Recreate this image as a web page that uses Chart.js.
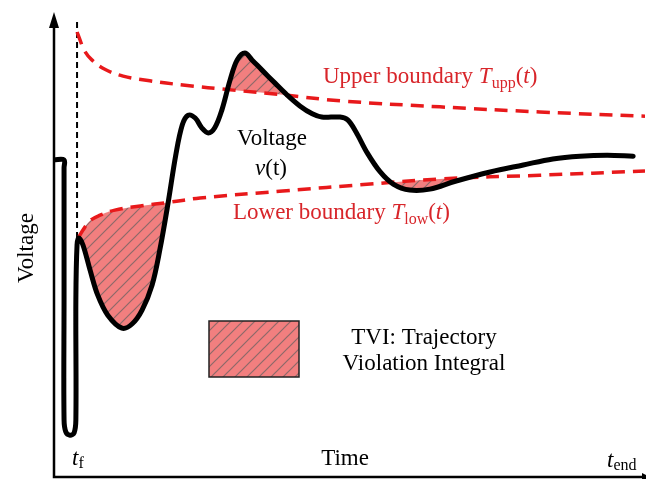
<!DOCTYPE html>
<html>
<head>
<meta charset="utf-8">
<script src="https://cdn.jsdelivr.net/npm/chart.js@4.4.1/dist/chart.umd.min.js"></script>
<style>
  html, body { margin: 0; padding: 0; background: #fff; }
  #wrap { width: 646px; height: 479px; }
</style>
</head>
<body>
<div id="wrap"><canvas id="tviChart" width="646" height="479"></canvas></div>
<script>
// time and voltage in arbitrary units (0..100)
const voltageTime  = [0, 1.7, 1.7, 1.7, 1.7, 2.0, 2.7, 3.4, 3.7, 3.7, 3.9, 4.2, 4.9, 6.1, 7.4, 9.1, 11.5, 13.2, 14.9, 16.6, 17.9, 19.3, 20.6, 21.7, 22.7, 23.9, 25.0, 26.1, 27.2, 28.4, 29.8, 31.0, 32.3, 33.5, 35.2, 37.4, 39.4, 41.6, 43.7, 45.3, 48.4, 49.7, 51.1, 53.0, 55.2, 57.4, 60.2, 63.6, 67.9, 73.8, 79.4, 84.4, 89.0, 93.6, 98.0];
const voltageValue = [68.2, 68.2, 66.5, 38.1, 12.3, 9.7, 9.0, 9.5, 12.3, 38.1, 49.9, 51.4, 49.9, 44.5, 39.1, 34.8, 32.0, 32.9, 35.9, 41.3, 48.8, 58.9, 69.2, 75.7, 77.8, 77.2, 75.1, 74.0, 75.1, 78.9, 85.4, 89.7, 91.2, 89.7, 87.5, 84.7, 82.2, 79.8, 78.1, 77.4, 77.4, 76.8, 74.2, 69.7, 65.6, 63.0, 61.7, 61.9, 63.6, 65.6, 67.1, 68.4, 69.0, 69.2, 69.0];

const upperTime  = [3.9, 4.4, 5.1, 6.4, 8.6, 11.7, 16.2, 21.8, 30.3, 38.7, 48.4, 65.3, 82.2, 100];
const upperValue = [95.7, 94.0, 91.8, 89.7, 87.7, 86.2, 85.2, 84.3, 83.2, 82.2, 80.9, 79.6, 78.5, 77.6];

const lowerTime  = [4.2, 4.9, 6.1, 7.8, 10.3, 14.6, 19.6, 24.7, 38.7, 53.5, 65.3, 82.2, 100];
const lowerValue = [51.6, 53.1, 55.1, 56.3, 57.4, 58.3, 59.1, 60.0, 61.5, 63.0, 64.1, 64.9, 65.8];

const faultTime = 3.9;   // t_f
const faultPeak = 51.4;  // voltage at t_f

const RED = '#e8191b';
const TEXT_RED = '#d8252a';
const SERIF = '"Liberation Serif", "Times New Roman", serif';

function toPoints(xs, ys) {
    return xs.map((x, i) => ({ x: x, y: ys[i] }));
}

// red fill with grey diagonal hatching
function makeHatch() {
    const c = document.createElement('canvas');
    c.width = 12; c.height = 12;
    const g = c.getContext('2d');
    g.fillStyle = '#f27f7f';
    g.fillRect(0, 0, 12, 12);
    g.strokeStyle = 'rgba(115,100,100,0.8)';
    g.lineWidth = 1.2;
    g.beginPath();
    g.moveTo(0, 12); g.lineTo(12, 0);
    g.moveTo(-3, 3); g.lineTo(3, -3);
    g.moveTo(9, 15); g.lineTo(15, 9);
    g.stroke();
    return g.createPattern(c, 'repeat');
}
const hatch = makeHatch();

function drawRuns(c, x, y, runs, align) {
    let w = 0;
    runs.forEach(r => { c.font = r[1]; w += c.measureText(r[0]).width; });
    let cx = align === 'center' ? x - w / 2 : x;
    c.textAlign = 'left';
    runs.forEach(r => {
        c.font = r[1];
        c.fillText(r[0], cx, y + (r[2] || 0));
        cx += c.measureText(r[0]).width;
    });
}

const figure = {
    id: 'figure',
    beforeDatasetsDraw(chart) {
        const c = chart.ctx;
        const xs = chart.scales.x, ys = chart.scales.y;
        const area = chart.chartArea;
        // dashed marker at fault time
        const fx = xs.getPixelForValue(faultTime);
        c.save();
        c.strokeStyle = '#000';
        c.lineWidth = 2;
        c.setLineDash([6, 4]);
        c.beginPath();
        c.moveTo(fx, area.top + 10);
        c.lineTo(fx, ys.getPixelForValue(faultPeak));
        c.stroke();
        c.restore();
    },
    afterDatasetsDraw(chart) {
        const c = chart.ctx;
        const area = chart.chartArea;
        const xs = chart.scales.x;
        c.save();
        // axes with arrows
        c.strokeStyle = '#000';
        c.fillStyle = '#000';
        c.lineWidth = 2.5;
        c.beginPath();
        c.moveTo(area.left, area.top + 12);
        c.lineTo(area.left, area.bottom);
        c.lineTo(chart.width, area.bottom);
        c.stroke();
        c.beginPath();
        c.moveTo(area.left, area.top);
        c.lineTo(area.left - 5, area.top + 16);
        c.lineTo(area.left + 5, area.top + 16);
        c.closePath();
        c.fill();
        c.beginPath();
        c.moveTo(chart.width + 4, area.bottom);
        c.lineTo(chart.width - 4, area.bottom - 4);
        c.lineTo(chart.width - 4, area.bottom + 4);
        c.closePath();
        c.fill();

        const f = '23px ' + SERIF;
        const it = 'italic 23px ' + SERIF;
        const sub = '16px ' + SERIF;

        c.textBaseline = 'alphabetic';
        // boundary labels
        c.fillStyle = TEXT_RED;
        drawRuns(c, 323, 83, [['Upper boundary ', f], ['T', it], ['upp', sub, 5], ['(', f], ['t', it], [')', f]]);
        drawRuns(c, 233, 219, [['Lower boundary ', f], ['T', it], ['low', sub, 5], ['(', f], ['t', it], [')', f]]);

        // voltage label
        c.fillStyle = '#000';
        drawRuns(c, 272, 145, [['Voltage', f]], 'center');
        drawRuns(c, 271, 175, [['v', it], ['(t)', f]], 'center');

        // legend box
        c.fillStyle = hatch;
        c.fillRect(209, 321, 90, 56);
        c.strokeStyle = '#222';
        c.lineWidth = 1.5;
        c.strokeRect(209, 321, 90, 56);
        c.fillStyle = '#000';
        drawRuns(c, 424, 344, [['TVI: Trajectory', f]], 'center');
        drawRuns(c, 424, 370, [['Violation Integral', f]], 'center');

        // axis texts
        drawRuns(c, 345, 465, [['Time', f]], 'center');
        drawRuns(c, xs.getPixelForValue(faultTime) - 5, 465, [['t', it], ['f', sub, 3]]);
        drawRuns(c, 607, 467, [['t', it], ['end', sub, 3]]);

        c.translate(33, 248);
        c.rotate(-Math.PI / 2);
        drawRuns(c, 0, 0, [['Voltage', f]], 'center');
        c.restore();
    }
};

new Chart(document.getElementById('tviChart').getContext('2d'), {
    type: 'line',
    data: {
        datasets: [{
            label: 'Voltage v(t)',
            data: toPoints(voltageTime, voltageValue),
            borderColor: '#000',
            borderWidth: 5,
            pointRadius: 0,
            tension: 0.35,
            borderCapStyle: 'round',
            borderJoinStyle: 'round',
            fill: false
        }, {
            label: 'Upper boundary',
            data: toPoints(upperTime, upperValue),
            borderColor: RED,
            borderWidth: 3.5,
            borderDash: [13, 8],
            pointRadius: 0,
            tension: 0.4,
            fill: { target: 0, above: 'rgba(0,0,0,0)', below: hatch }
        }, {
            label: 'Lower boundary',
            data: toPoints(lowerTime, lowerValue),
            borderColor: RED,
            borderWidth: 3.5,
            borderDash: [13, 8],
            pointRadius: 0,
            tension: 0.4,
            fill: { target: 0, above: hatch, below: 'rgba(0,0,0,0)' }
        }]
    },
    options: {
        responsive: false,
        animation: false,
        devicePixelRatio: 1,
        events: [],
        layout: { padding: { left: 54, right: 1, top: 12, bottom: 2 } },
        scales: {
            x: { type: 'linear', min: 0, max: 100, display: false },
            y: { min: 0, max: 100, display: false }
        },
        plugins: { legend: { display: false }, tooltip: { enabled: false } }
    },
    plugins: [figure]
});
</script>
</body>
</html>
